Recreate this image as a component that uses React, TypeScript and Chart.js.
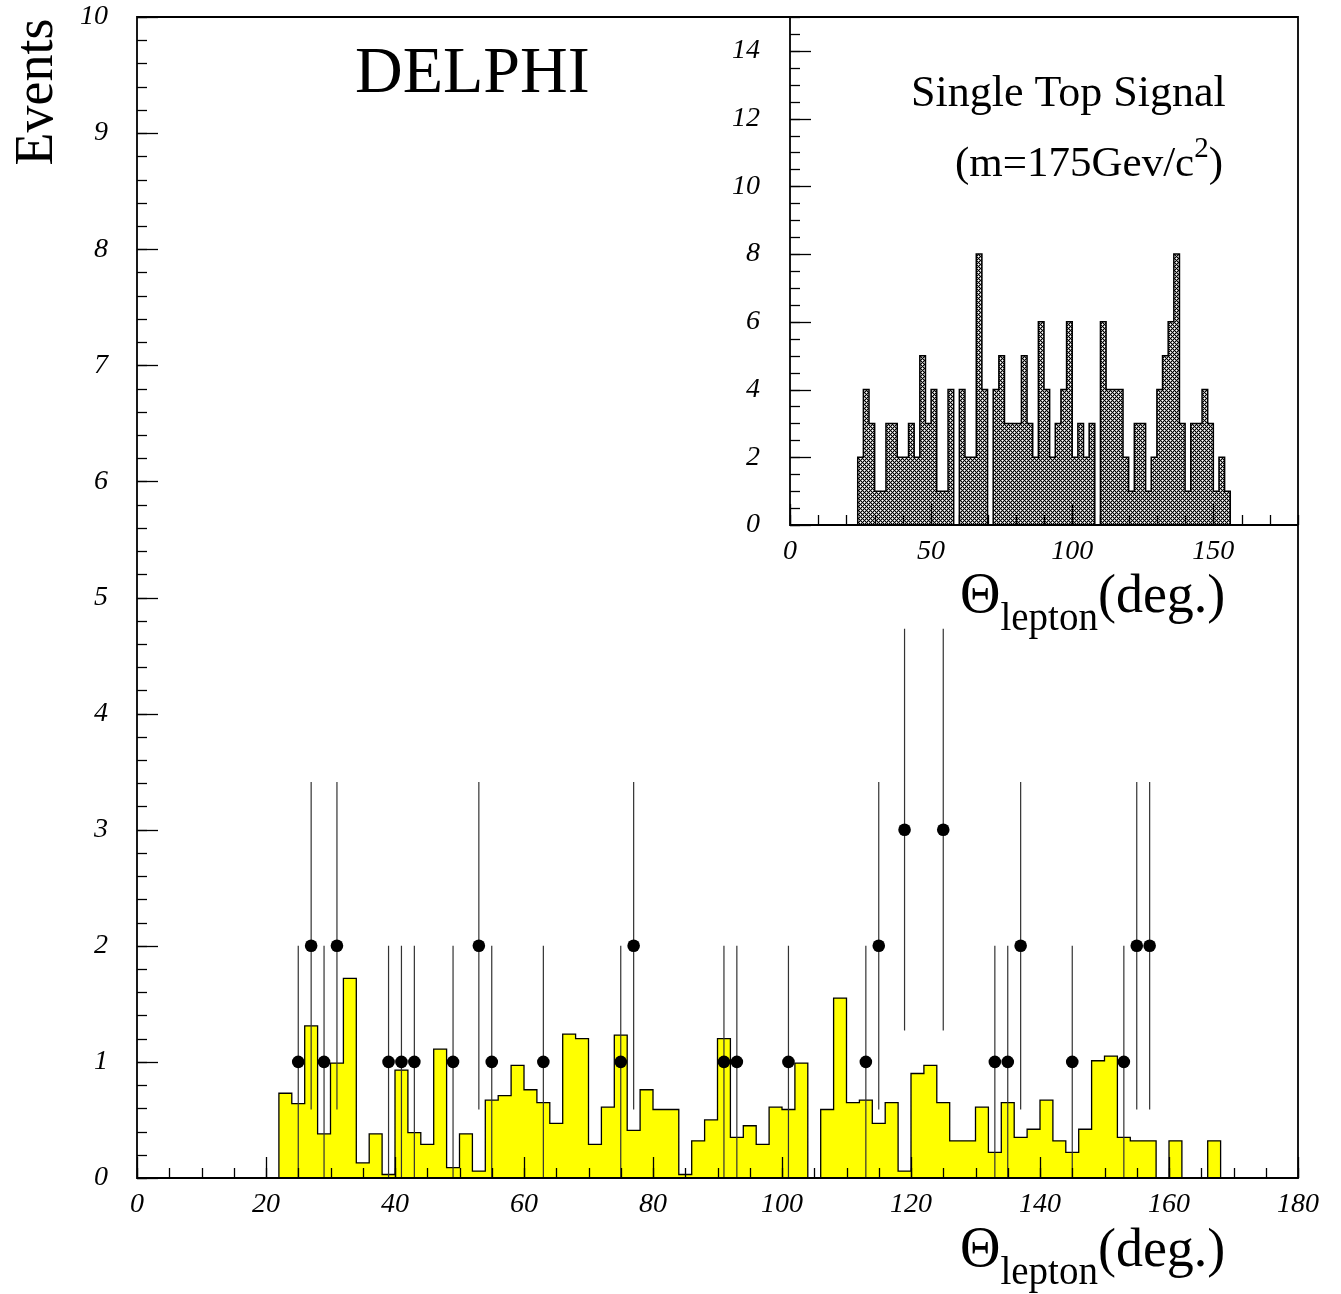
import React, { useEffect, useRef } from 'react';
import { Chart, registerables } from 'chart.js';

Chart.register(...registerables);

const W = 1341;
const H = 1294;
const SERIF = "'Liberation Serif', 'Times New Roman', serif";

// ---------- data ----------
const BIN_WIDTH = 2;

// main plot: background histogram (yellow), lower bin edges in degrees
const mainBinLow = [
  22, 24, 26, 28, 30, 32, 34, 36, 38, 40,
  42, 44, 46, 48, 50, 52, 54, 56, 58, 60,
  62, 64, 66, 68, 70, 72, 74, 76, 78, 80,
  82, 84, 86, 88, 90, 92, 94, 96, 98, 100,
  102, 104, 106, 108, 110, 112, 114, 116, 118, 120,
  122, 124, 126, 128, 130, 132, 134, 136, 138, 140,
  142, 144, 146, 148, 150, 152, 154, 156, 158, 160,
  162, 164, 166,
];
const mainBgValues = [
  0.73, 0.64, 1.31, 0.38, 0.99, 1.72, 0.13, 0.38, 0.03, 0.93,
  0.39, 0.29, 1.11, 0.09, 0.38, 0.06, 0.67, 0.71, 0.97, 0.76,
  0.65, 0.47, 1.24, 1.2, 0.29, 0.61, 1.23, 0.41, 0.76, 0.59,
  0.59, 0.03, 0.32, 0.5, 1.2, 0.35, 0.45, 0.29, 0.61, 0.59,
  0.99, 0, 0.59, 1.55, 0.65, 0.67, 0.47, 0.65, 0.06, 0.9,
  0.97, 0.65, 0.32, 0.32, 0.61, 0.22, 0.65, 0.35, 0.42, 0.67,
  0.32, 0.22, 0.42, 1.01, 1.05, 0.35, 0.32, 0.32, 0, 0.32,
  0, 0, 0.32,
];

// main plot: data points with error bars
const dataX = [25, 27, 29, 31, 39, 41, 43, 49, 53, 55, 63, 75, 77, 91, 93, 101, 113, 115, 119, 125, 133, 135, 137, 145, 153, 155, 157];
const dataY = [1, 2, 1, 2, 1, 1, 1, 1, 2, 1, 1, 1, 2, 1, 1, 1, 1, 2, 3, 3, 1, 1, 2, 1, 1, 2, 2];
const dataErr = [1, 1.41, 1, 1.41, 1, 1, 1, 1, 1.41, 1, 1, 1, 1.41, 1, 1, 1, 1, 1.41, 1.73, 1.73, 1, 1, 1.41, 1, 1, 1.41, 1.41];

// inset: single top signal histogram
const insetBinLow = [
  24, 26, 28, 30, 32, 34, 36, 38, 40, 42,
  44, 46, 48, 50, 52, 54, 56, 58, 60, 62,
  64, 66, 68, 70, 72, 74, 76, 78, 80, 82,
  84, 86, 88, 90, 92, 94, 96, 98, 100, 102,
  104, 106, 108, 110, 112, 114, 116, 118, 120, 122,
  124, 126, 128, 130, 132, 134, 136, 138, 140, 142,
  144, 146, 148, 150, 152, 154,
];
const insetValues = [
  2, 4, 3, 1, 1, 3, 3, 2, 2, 3,
  2, 5, 3, 4, 1, 1, 4, 0, 4, 2,
  2, 8, 4, 0, 4, 5, 3, 3, 3, 5,
  3, 2, 6, 4, 2, 3, 4, 6, 2, 3,
  2, 3, 0, 6, 4, 4, 4, 2, 1, 3,
  3, 1, 2, 4, 5, 6, 8, 3, 1, 3,
  3, 4, 3, 1, 2, 1,
];

// axis ranges / ticks
const mainX = { min: 0, max: 180, major: 20, minor: 5 };
const mainY = { min: 0, max: 10, major: 1, minor: 0.2 };
const insetX = { min: 0, max: 180, major: 50, minor: 10 };
const insetY = { min: 0, max: 15, major: 2, minor: 0.5 };

// ---------- helpers ----------
function stepPoints(low: number[], vals: number[]) {
  const pts: { x: number; y: number }[] = [{ x: low[0], y: 0 }];
  low.forEach((l, i) => pts.push({ x: l, y: vals[i] }));
  pts.push({ x: low[low.length - 1] + BIN_WIDTH, y: vals[vals.length - 1] });
  pts.push({ x: low[low.length - 1] + BIN_WIDTH, y: 0 });
  return pts;
}

function errorPoints() {
  const pts: { x: number; y: number | null }[] = [];
  dataX.forEach((x, i) => {
    pts.push({ x, y: Math.max(0, dataY[i] - dataErr[i]) });
    pts.push({ x, y: dataY[i] + dataErr[i] });
    pts.push({ x, y: null });
  });
  return pts;
}

type Part = { t: string; size: number; dy?: number };
function drawParts(ctx: CanvasRenderingContext2D, parts: Part[], x: number, y: number) {
  let cx = x;
  ctx.textAlign = 'left';
  ctx.textBaseline = 'alphabetic';
  ctx.fillStyle = '#000';
  for (const p of parts) {
    ctx.font = `${p.size}px ${SERIF}`;
    ctx.fillText(p.t, cx, y + (p.dy || 0));
    cx += ctx.measureText(p.t).width;
  }
}

const thetaTitle: Part[] = [
  { t: 'Θ', size: 56 },
  { t: 'lepton', size: 39, dy: 18 },
  { t: '(deg.)', size: 54 },
];

function makeTickPlugin(id: string, xr: any, yr: any, fullFrame: boolean) {
  return {
    id,
    afterDatasetsDraw(chart: any) {
      const { ctx, chartArea: a, scales } = chart;
      const x = scales.x;
      const y = scales.y;
      ctx.save();
      ctx.strokeStyle = '#000';
      ctx.lineWidth = 1.3;
      const drawX = (step: number, len: number) => {
        const n = Math.round((xr.max - xr.min) / step);
        for (let i = 0; i <= n; i++) {
          const px = Math.round(x.getPixelForValue(xr.min + i * step)) + 0.5;
          ctx.beginPath();
          ctx.moveTo(px, a.bottom);
          ctx.lineTo(px, a.bottom - len);
          ctx.stroke();
        }
      };
      const drawY = (step: number, len: number) => {
        const n = Math.round((yr.max - yr.min) / step);
        for (let i = 0; i <= n; i++) {
          const py = Math.round(y.getPixelForValue(yr.min + i * step)) + 0.5;
          ctx.beginPath();
          ctx.moveTo(a.left, py);
          ctx.lineTo(a.left + len, py);
          ctx.stroke();
        }
      };
      drawX(xr.minor, 10);
      drawX(xr.major, 21);
      drawY(yr.minor, 10);
      drawY(yr.major, 21);
      ctx.lineWidth = 1.8;
      ctx.beginPath();
      if (fullFrame) {
        ctx.rect(a.left, a.top, a.right - a.left, a.bottom - a.top);
      } else {
        ctx.moveTo(a.left, a.top);
        ctx.lineTo(a.left, a.bottom);
        ctx.lineTo(a.right, a.bottom);
      }
      ctx.stroke();
      ctx.restore();
    },
  };
}

function makeHatch(ctx: CanvasRenderingContext2D) {
  const c = document.createElement('canvas');
  c.width = 4;
  c.height = 4;
  const g = c.getContext('2d')!;
  for (let px = 0; px < 4; px++) {
    for (let py = 0; py < 4; py++) {
      const onLine = (px + py) % 4 === 0 || (px - py + 4) % 4 === 0;
      const hole = (px + py) % 4 === 2 && (px - py + 4) % 4 === 2;
      g.fillStyle = onLine ? '#000' : hole ? '#fff' : '#a0a0a0';
      g.fillRect(px, py, 1, 1);
    }
  }
  return ctx.createPattern(c, 'repeat');
}

const tickFont = { family: SERIF, size: 28, style: 'italic' as const };

function fixBox(width: number | null, height: number | null) {
  return (s: any) => {
    if (width !== null) s.width = width;
    if (height !== null) s.height = height;
    s.paddingTop = 0;
    s.paddingBottom = 0;
    s.paddingLeft = 0;
    s.paddingRight = 0;
  };
}

export default function App() {
  const mainRef = useRef<HTMLCanvasElement>(null);
  const insetRef = useRef<HTMLCanvasElement>(null);

  useEffect(() => {
    const mainCanvas = mainRef.current!;
    const insetCanvas = insetRef.current!;

    const mainTexts = {
      id: 'mainTexts',
      afterDraw(chart: any) {
        const ctx = chart.ctx as CanvasRenderingContext2D;
        ctx.save();
        drawParts(ctx, [{ t: 'DELPHI', size: 66 }], 355, 92);
        drawParts(ctx, thetaTitle, 960, 1266);
        ctx.translate(52, 92);
        ctx.rotate(-Math.PI / 2);
        ctx.font = `54px ${SERIF}`;
        ctx.textAlign = 'center';
        ctx.textBaseline = 'alphabetic';
        ctx.fillStyle = '#000';
        ctx.fillText('Events', 0, 0);
        ctx.restore();
      },
    };

    const main = new Chart(mainCanvas, {
      type: 'line',
      data: {
        datasets: [
          {
            label: 'data',
            data: dataX.map((x, i) => ({ x, y: dataY[i] })),
            showLine: false,
            pointRadius: 6.3,
            pointBackgroundColor: '#000',
            pointBorderColor: '#000',
            pointBorderWidth: 0,
            order: 1,
          } as any,
          {
            label: 'errors',
            data: errorPoints(),
            borderColor: '#333',
            borderWidth: 1.2,
            pointRadius: 0,
            spanGaps: false,
            fill: false,
            order: 2,
          } as any,
          {
            label: 'background',
            data: stepPoints(mainBinLow, mainBgValues),
            stepped: 'before',
            fill: 'origin',
            backgroundColor: '#ffff00',
            borderColor: '#000',
            borderWidth: 1.3,
            pointRadius: 0,
            order: 3,
          } as any,
        ],
      },
      options: {
        responsive: false,
        animation: false,
        events: [],
        layout: { padding: { left: 0, right: W - 1298, top: 17, bottom: 0 } },
        plugins: { legend: { display: false }, tooltip: { enabled: false } },
        scales: {
          x: {
            type: 'linear',
            min: mainX.min,
            max: mainX.max,
            grid: { display: false, drawTicks: false },
            border: { display: false },
            ticks: { stepSize: mainX.major, padding: 10, color: '#000', font: tickFont, maxRotation: 0, autoSkip: false, includeBounds: false },
            afterFit: fixBox(null, H - 1178),
          },
          y: {
            type: 'linear',
            min: mainY.min,
            max: mainY.max,
            grid: { display: false, drawTicks: false },
            border: { display: false },
            ticks: { stepSize: mainY.major, padding: 29, color: '#000', font: tickFont, includeBounds: false },
            afterFit: fixBox(137, null),
          },
        },
      } as any,
      plugins: [makeTickPlugin('mainTicks', mainX, mainY, true), mainTexts],
    });

    const ictx = insetCanvas.getContext('2d')!;
    const hatch = makeHatch(ictx);

    const insetTexts = {
      id: 'insetTexts',
      afterDraw(chart: any) {
        const ctx = chart.ctx as CanvasRenderingContext2D;
        ctx.save();
        drawParts(ctx, [{ t: 'Single Top Signal', size: 44 }], 911, 106);
        drawParts(ctx, [
          { t: '(m=175Gev/c', size: 43 },
          { t: '2', size: 29, dy: -19 },
          { t: ')', size: 43 },
        ], 955, 176);
        drawParts(ctx, thetaTitle, 960, 612);
        ctx.restore();
      },
    };

    const inset = new Chart(insetCanvas, {
      type: 'line',
      data: {
        datasets: [
          {
            label: 'signal',
            data: stepPoints(insetBinLow, insetValues),
            stepped: 'before',
            fill: 'origin',
            backgroundColor: hatch,
            borderColor: '#000',
            borderWidth: 1.5,
            pointRadius: 0,
          } as any,
        ],
      },
      options: {
        responsive: false,
        animation: false,
        events: [],
        layout: { padding: { left: 0, right: W - 1298, top: 17, bottom: 0 } },
        plugins: { legend: { display: false }, tooltip: { enabled: false } },
        scales: {
          x: {
            type: 'linear',
            min: insetX.min,
            max: insetX.max,
            grid: { display: false, drawTicks: false },
            border: { display: false },
            ticks: { stepSize: insetX.major, padding: 10, color: '#000', font: tickFont, maxRotation: 0, autoSkip: false, includeBounds: false },
            afterFit: fixBox(null, H - 525),
          },
          y: {
            type: 'linear',
            min: insetY.min,
            max: insetY.max,
            grid: { display: false, drawTicks: false },
            border: { display: false },
            ticks: { stepSize: insetY.major, padding: 30, color: '#000', font: tickFont, includeBounds: false },
            afterFit: fixBox(790, null),
          },
        },
      } as any,
      plugins: [makeTickPlugin('insetTicks', insetX, insetY, false), insetTexts],
    });

    return () => {
      main.destroy();
      inset.destroy();
    };
  }, []);

  return (
    <div style={{ position: 'absolute', left: 0, top: 0, width: W, height: H, background: '#fff' }}>
      <canvas ref={mainRef} width={W} height={H} style={{ position: 'absolute', left: 0, top: 0, width: W, height: H }} />
      <canvas ref={insetRef} width={W} height={H} style={{ position: 'absolute', left: 0, top: 0, width: W, height: H }} />
    </div>
  );
}
